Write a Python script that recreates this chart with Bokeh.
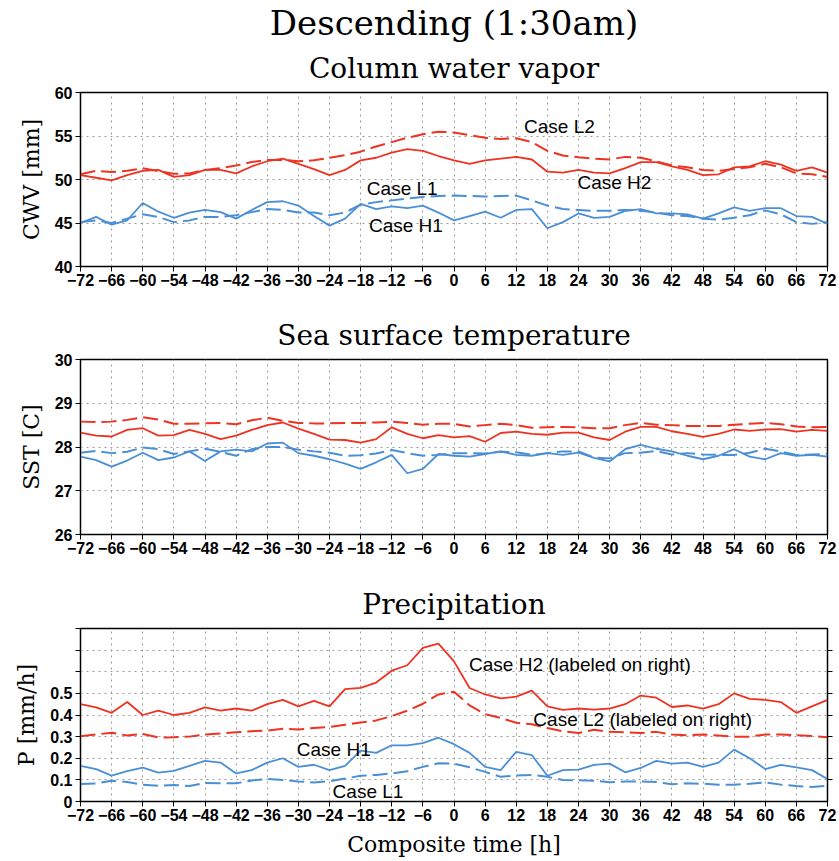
from bokeh.plotting import figure
from bokeh.models import Title, Label, LinearAxis, FixedTicker, Range1d
from bokeh.layouts import column
from bokeh.embed import file_html
from bokeh.resources import INLINE

# ---------------- data ----------------
t = list(range(-72, 73, 3))

cwv_H2 = [50.5, 50.2, 49.9, 50.5, 51.0, 51.1, 50.3, 50.5, 51.1, 51.1, 50.7, 51.5, 52.1, 52.4, 51.8, 51.2, 50.5,
          51.1, 52.2, 52.5, 53.1, 53.5, 53.3, 52.7, 52.2, 51.8, 52.2, 52.4, 52.6, 52.3, 50.9, 50.8, 51.1, 50.8,
          50.7, 51.3, 52.0, 52.0, 51.5, 51.1, 50.5, 50.6, 51.4, 51.5, 52.1, 51.7, 51.0, 51.4, 50.8]
cwv_L2 = [50.6, 51.0, 50.85, 51.0, 51.3, 50.95, 50.65, 50.7, 51.1, 51.3, 51.6, 52.0, 52.25, 52.25, 52.1, 52.2,
          52.5, 52.8, 53.2, 53.8, 54.3, 54.8, 55.2, 55.5, 55.4, 55.1, 54.8, 54.65, 54.75, 54.3, 53.3, 52.75,
          52.55, 52.4, 52.3, 52.6, 52.5, 52.1, 51.6, 51.4, 51.1, 51.0, 51.2, 51.4, 51.8, 51.4, 50.7, 50.6, 50.3]
cwv_H1 = [45.0, 45.7, 44.8, 45.3, 47.3, 46.3, 45.6, 46.2, 46.5, 46.25, 45.5, 46.5, 47.4, 47.5, 47.0, 45.8, 44.7,
          45.5, 47.2, 46.6, 46.9, 46.7, 47.0, 46.2, 45.3, 45.8, 46.3, 45.6, 46.5, 46.6, 44.4, 45.1, 46.1, 45.6,
          45.7, 46.4, 46.6, 46.1, 46.1, 46.0, 45.5, 46.1, 46.8, 46.4, 46.7, 46.7, 45.8, 45.7, 44.9]
cwv_L1 = [45.1, 45.3, 45.0, 45.5, 46.0, 45.7, 45.1, 45.3, 45.7, 45.7, 45.9, 46.25, 46.6, 46.5, 46.2, 46.2, 45.9,
          46.2, 47.1, 47.4, 47.6, 47.8, 48.0, 48.1, 48.15, 48.1, 48.05, 48.1, 48.15, 47.6, 47.0, 46.6, 46.5,
          46.4, 46.4, 46.5, 46.4, 46.2, 45.9, 45.8, 45.5, 45.4, 45.6, 45.9, 46.45, 46.0, 45.1, 44.9, 45.1]

sst_H2 = [28.33, 28.26, 28.24, 28.39, 28.43, 28.26, 28.27, 28.39, 28.3, 28.18, 28.26, 28.39, 28.5, 28.56, 28.42,
          28.3, 28.17, 28.16, 28.1, 28.18, 28.45, 28.3, 28.2, 28.27, 28.22, 28.25, 28.12, 28.32, 28.35, 28.3,
          28.28, 28.33, 28.33, 28.22, 28.16, 28.35, 28.46, 28.46, 28.36, 28.3, 28.23, 28.3, 28.4, 28.37, 28.4,
          28.41, 28.35, 28.39, 28.37]
sst_L2 = [28.58, 28.57, 28.58, 28.62, 28.68, 28.63, 28.53, 28.53, 28.54, 28.55, 28.52, 28.61, 28.67, 28.6, 28.55,
          28.54, 28.54, 28.55, 28.55, 28.56, 28.58, 28.55, 28.51, 28.53, 28.53, 28.47, 28.5, 28.53, 28.5, 28.44,
          28.45, 28.46, 28.45, 28.43, 28.43, 28.5, 28.55, 28.51, 28.5, 28.48, 28.48, 28.48, 28.51, 28.53, 28.55,
          28.52, 28.47, 28.45, 28.46]
sst_H1 = [27.78, 27.7, 27.55, 27.69, 27.87, 27.7, 27.76, 27.9, 27.68, 27.9, 27.94, 27.9, 28.08, 28.1, 27.86,
          27.8, 27.72, 27.62, 27.5, 27.65, 27.82, 27.4, 27.5, 27.84, 27.8, 27.78, 27.84, 27.9, 27.82, 27.8,
          27.86, 27.82, 27.87, 27.75, 27.67, 27.95, 28.05, 27.96, 27.9, 27.8, 27.72, 27.8, 27.95, 27.78, 27.72,
          27.86, 27.8, 27.82, 27.78]
sst_L1 = [27.87, 27.91, 27.86, 27.89, 27.99, 27.95, 27.84, 27.9, 27.96, 27.89, 27.8, 27.95, 28.0, 28.0, 27.94,
          27.9, 27.87, 27.8, 27.81, 27.85, 27.93, 27.86, 27.8, 27.82, 27.86, 27.86, 27.85, 27.89, 27.88, 27.82,
          27.86, 27.9, 27.9, 27.76, 27.74, 27.86, 27.87, 27.91, 27.83, 27.86, 27.83, 27.82, 27.82, 27.87, 27.96,
          27.9, 27.82, 27.83, 27.84]

pr_H2 = [0.45, 0.435, 0.41, 0.46, 0.40, 0.42, 0.40, 0.41, 0.435, 0.42, 0.43, 0.42, 0.45, 0.47, 0.44, 0.465, 0.44,
         0.52, 0.525, 0.55, 0.605, 0.63, 0.71, 0.73, 0.648, 0.525, 0.495, 0.477, 0.485, 0.513, 0.44, 0.424, 0.43,
         0.425, 0.43, 0.45, 0.49, 0.48, 0.437, 0.444, 0.43, 0.45, 0.50, 0.475, 0.47, 0.46, 0.41, 0.44, 0.47]
pr_L2 = [0.302, 0.31, 0.318, 0.305, 0.312, 0.296, 0.297, 0.3, 0.31, 0.315, 0.32, 0.325, 0.328, 0.336, 0.333, 0.34,
         0.345, 0.355, 0.365, 0.375, 0.395, 0.42, 0.452, 0.495, 0.508, 0.445, 0.404, 0.386, 0.364, 0.357, 0.34,
         0.324, 0.317, 0.332, 0.322, 0.32, 0.317, 0.322, 0.31, 0.306, 0.31, 0.305, 0.3, 0.3, 0.31, 0.31, 0.306,
         0.303, 0.297]
pr_H1 = [0.165, 0.15, 0.12, 0.14, 0.157, 0.134, 0.142, 0.165, 0.188, 0.18, 0.13, 0.145, 0.18, 0.2, 0.16, 0.17,
         0.145, 0.165, 0.235, 0.225, 0.26, 0.26, 0.27, 0.295, 0.265, 0.225, 0.16, 0.145, 0.23, 0.215, 0.119,
         0.145, 0.147, 0.169, 0.175, 0.135, 0.155, 0.188, 0.175, 0.18, 0.16, 0.18, 0.24, 0.2, 0.15, 0.169, 0.158,
         0.145, 0.104]
pr_L1 = [0.081, 0.083, 0.096, 0.09, 0.078, 0.073, 0.076, 0.072, 0.086, 0.084, 0.084, 0.097, 0.104, 0.099, 0.093,
         0.088, 0.094, 0.106, 0.119, 0.123, 0.13, 0.14, 0.16, 0.177, 0.175, 0.158, 0.137, 0.114, 0.12, 0.123,
         0.114, 0.099, 0.098, 0.096, 0.089, 0.092, 0.093, 0.09, 0.08, 0.084, 0.082, 0.078, 0.078, 0.082, 0.088,
         0.078, 0.072, 0.067, 0.073]

x_ticks = list(range(-72, 73, 6))
cwv_ticks = [40, 45, 50, 55, 60]
sst_ticks = [26, 27, 28, 29, 30]
pr_ticks = [0, 0.1, 0.2, 0.3, 0.4, 0.5, 0.6, 0.7, 0.8]
pr_tick_labels = ["0", "0.1", "0.2", "0.3", "0.4", "0.5", "", "", ""]

# ---------------- style ----------------
RED = "#ee3322"
BLUE = "#4a8fd6"
SERIF = "DejaVu Serif"
SANS = "Liberation Sans"
DASH = "15 6"

x_labels = {v: (f"\u2212{abs(v)}" if v < 0 else str(v)) for v in x_ticks}


def make_fig(height, top, bottom, yr, yticks, ylabels, ylabel, subtitle, xlabel=None):
    p = figure(width=837, height=height, x_range=Range1d(-72, 72), y_range=Range1d(*yr),
               output_backend="svg", toolbar_location=None, title=None,
               min_border_left=80, min_border_right=10, min_border_top=top, min_border_bottom=bottom)
    p.outline_line_color = "black"
    p.outline_line_width = 1.5
    p.xaxis.ticker = FixedTicker(ticks=x_ticks)
    p.xaxis.major_label_overrides = x_labels
    p.yaxis.ticker = FixedTicker(ticks=yticks)
    p.yaxis.major_label_overrides = {v: s for v, s in zip(yticks, ylabels)}
    for ax in (p.xaxis, p.yaxis):
        ax.major_label_text_font = SANS
        ax.major_label_text_font_style = "bold"
        ax.major_label_text_font_size = "16px"
        ax.major_label_text_color = "black"
        ax.major_tick_out = 5
        ax.major_tick_in = 0
        ax.minor_tick_out = 0
        ax.minor_tick_in = 0
        ax.axis_line_color = "black"
        ax.major_tick_line_color = "black"
        ax.axis_label_text_font = SERIF
        ax.axis_label_text_font_style = "normal"
        ax.axis_label_text_font_size = "22px"
        ax.axis_label_text_color = "black"
    p.xaxis.major_label_standoff = 2
    p.xaxis.axis_label_standoff = 8
    p.yaxis.major_label_standoff = 3
    p.yaxis.axis_label_standoff = 8
    p.yaxis.axis_label = ylabel
    if xlabel:
        p.xaxis.axis_label = xlabel
    for g in (p.xgrid, p.ygrid):
        g.grid_line_color = "#9a9a9a"
        g.grid_line_dash = "2 4"
        g.grid_line_width = 1
    p.add_layout(Title(text=subtitle, align="center", text_font=SERIF, text_font_size="28px",
                       text_font_style="normal", text_color="black", standoff=15), "above")
    return p


def add_lines(p, h2, l2, h1, l1):
    p.line(t, l1, line_color=BLUE, line_width=2, line_dash=DASH)
    p.line(t, h1, line_color=BLUE, line_width=1.8)
    p.line(t, l2, line_color=RED, line_width=2, line_dash=DASH)
    p.line(t, h2, line_color=RED, line_width=1.8)


def case_label(p, x, y, text):
    p.add_layout(Label(x=x, y=y, text=text, text_font=SANS, text_font_size="19px",
                       text_baseline="middle", text_align="left", text_color="black"))


# Panel 1: column water vapor
p1 = make_fig(300, 91, 34, (40, 60), cwv_ticks, [str(v) for v in cwv_ticks], "CWV [mm]", "Column water vapor")
p1.add_layout(Title(text="Descending (1:30am)", align="center", text_font=SERIF, text_font_size="34px",
                    text_font_style="normal", text_color="black", standoff=0), "above")
add_lines(p1, cwv_H2, cwv_L2, cwv_H1, cwv_L1)
case_label(p1, 13.5, 56.1, "Case L2")
case_label(p1, 23.8, 49.6, "Case H2")
case_label(p1, -16.8, 49.0, "Case L1")
case_label(p1, -16.4, 44.7, "Case H1")

# Panel 2: sea surface temperature
p2 = make_fig(268, 59, 34, (26, 30), sst_ticks, [str(v) for v in sst_ticks], "SST [C]", "Sea surface temperature")
add_lines(p2, sst_H2, sst_L2, sst_H1, sst_L1)

# Panel 3: precipitation
p3 = make_fig(293, 60, 60, (0, 0.8), pr_ticks, pr_tick_labels, "P [mm/h]", "Precipitation",
              xlabel="Composite time [h]")
right = LinearAxis(ticker=FixedTicker(ticks=pr_ticks[1:-1]),
                   major_label_overrides={v: "" for v in pr_ticks[1:-1]},
                   major_tick_out=5, major_tick_in=0, minor_tick_out=0, minor_tick_in=0,
                   major_label_standoff=0, axis_line_color="black", major_tick_line_color="black",
                   major_label_text_font_size="1px")
p3.add_layout(right, "right")
add_lines(p3, pr_H2, pr_L2, pr_H1, pr_L1)
case_label(p3, 2.9, 0.633, "Case H2 (labeled on right)")
case_label(p3, 15.3, 0.379, "Case L2 (labeled on right)")
case_label(p3, -30.3, 0.24, "Case H1")
case_label(p3, -23.4, 0.046, "Case L1")

layout = column(p1, p2, p3)
open("out.html", "w").write(file_html(layout, INLINE))
